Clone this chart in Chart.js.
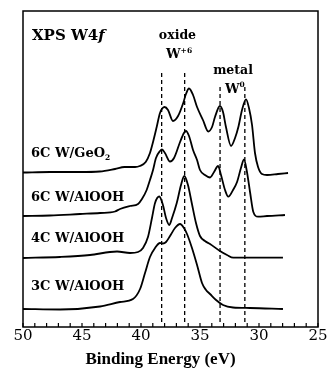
<!DOCTYPE html>
<html>
<head>
<meta charset="utf-8">
<script src="https://cdn.jsdelivr.net/npm/chart.js@4.4.1/dist/chart.umd.min.js"></script>
<style>
    html, body { margin: 0; padding: 0; background: #fff; }
    #wrap { width: 328px; height: 387px; }
</style>
</head>
<body>
<div id="wrap"><canvas id="xps"></canvas></div>
<script>
// Binding energy (eV) and intensity (a.u.)
const eV_6C_GeO2 = [50, 47.7, 45.2, 43.5, 42.2, 41.4, 40.5, 40.1, 39.6, 39.24, 38.98, 38.67, 38.39, 38.0, 37.71, 37.29, 36.86, 36.42, 36.19, 35.93, 35.59, 35.25, 34.75, 34.3, 33.98, 33.73, 33.31, 33.05, 32.8, 32.37, 32.03, 31.75, 31.44, 31.1, 30.85, 30.59, 30.34, 30.08, 29.75, 29.32, 28.39, 27.54];
const int_6C_GeO2 = [154.5, 155, 155, 155.5, 158, 160, 160, 161, 165, 174, 185, 200, 214, 220, 217, 206, 211, 224, 233, 238.5, 232, 220, 207, 195.5, 200, 210, 221, 215, 200, 181, 189, 200, 217, 227.7, 219, 202, 174, 160, 153, 152, 153, 154];

const eV_6C_AlOOH = [50, 47.71, 45.17, 43.47, 42.2, 41.78, 40.93, 40.25, 39.92, 39.52, 39.24, 38.98, 38.73, 38.39, 38.22, 37.97, 37.54, 37.2, 36.69, 36.36, 36.19, 35.93, 35.59, 35.25, 35.0, 34.58, 34.15, 33.81, 33.47, 33.22, 32.88, 32.6, 32.2, 31.86, 31.53, 31.27, 31.02, 30.76, 30.48, 30.08, 29.32, 27.8];
const int_6C_AlOOH = [111, 111.5, 113, 114, 115.5, 118, 121, 123, 128, 137, 147, 157, 169, 176, 177.5, 174, 165.5, 169, 185, 194, 196, 191, 177, 167, 157, 152, 149.5, 155, 161, 152, 137, 130.3, 137, 145, 159, 167.5, 155, 135, 115, 110.3, 111, 112];

const eV_4C_AlOOH = [50, 46.86, 44.32, 42.63, 42.03, 40.93, 40.25, 39.83, 39.41, 39.07, 38.81, 38.45, 38.14, 37.88, 37.6, 37.37, 36.97, 36.61, 36.33, 36.02, 35.7, 35.34, 35.0, 34.58, 34.15, 33.31, 32.71, 32.18, 27.97];
const int_4C_AlOOH = [69, 70, 72, 75, 75.5, 74, 75, 79, 90, 109, 124, 130.5, 122, 109, 102, 109, 124, 142, 151, 142, 124, 104, 91, 86, 83, 76, 72, 69.3, 69.3];

const eV_3C_AlOOH = [50, 46.86, 43.47, 41.78, 40.68, 40.08, 39.66, 39.24, 38.81, 38.39, 38.14, 37.88, 37.54, 37.12, 36.69, 36.36, 36.1, 35.68, 35.25, 34.83, 34.49, 34.15, 33.64, 33.05, 32.2, 30.76, 27.97];
const int_3C_AlOOH = [18, 17.5, 20.5, 25, 28, 38, 54, 70, 79, 84, 83.5, 85, 91, 99, 103, 99, 93, 79, 62, 44, 37, 33, 27, 22, 19.5, 19, 18];

// reference positions (W+6 oxide doublet, W0 metal doublet)
const refPeaks = [38.25, 36.3, 33.3, 31.2];
const refTop = [256, 256, 241, 241];
const refBottom = 5;

const xTicks = [50, 45, 40, 35, 30, 25];

// sample labels: name, subscript, intensity of the text baseline
const sampleNames = ['6C W/GeO', '6C W/AlOOH', '4C W/AlOOH', '3C W/AlOOH'];
const sampleSubs = ['2', '', '', ''];
const sampleY = [170.5, 126.5, 85, 36.7];

function pares(xs, ys) {
    return xs.map((v, i) => ({ x: v, y: ys[i] }));
}

const spectra = [
    pares(eV_6C_GeO2, int_6C_GeO2),
    pares(eV_6C_AlOOH, int_6C_AlOOH),
    pares(eV_4C_AlOOH, int_4C_AlOOH),
    pares(eV_3C_AlOOH, int_3C_AlOOH)
];

const datasets = spectra.map(d => ({
    data: d,
    borderColor: '#000',
    borderWidth: 1.8,
    pointRadius: 0,
    fill: false,
    cubicInterpolationMode: 'monotone'
}));

refPeaks.forEach((p, i) => {
    datasets.push({
        data: [{ x: p, y: refBottom }, { x: p, y: refTop[i] }],
        borderColor: '#000',
        borderWidth: 1.3,
        borderDash: [4, 3],
        pointRadius: 0,
        fill: false
    });
});

const serif = '"DejaVu Serif", serif';

// draws a run of text pieces (for super/subscripts) at a data position
function putText(chart, pieces, xv, yv, align) {
    const ctx = chart.ctx;
    const px = chart.scales.x.getPixelForValue(xv);
    const py = chart.scales.y.getPixelForValue(yv);
    let total = 0;
    pieces.forEach(p => { ctx.font = p.font; total += ctx.measureText(p.t).width; });
    let cx = align === 'center' ? px - total / 2 : px;
    ctx.textAlign = 'left';
    ctx.textBaseline = 'alphabetic';
    pieces.forEach(p => {
        ctx.font = p.font;
        ctx.fillText(p.t, cx, py + (p.dy || 0));
        cx += ctx.measureText(p.t).width;
    });
}

const decor = {
    id: 'decor',
    afterDatasetsDraw(chart) {
        const { ctx, chartArea: a, scales: { x } } = chart;
        ctx.save();
        ctx.strokeStyle = '#000';
        ctx.fillStyle = '#000';

        // frame
        ctx.lineWidth = 1.5;
        ctx.strokeRect(a.left, a.top, a.right - a.left, a.bottom - a.top);

        // inward ticks every 1 eV
        ctx.lineWidth = 1.2;
        x.ticks.forEach(t => {
            const px = x.getPixelForValue(t.value);
            ctx.beginPath();
            ctx.moveTo(px, a.bottom);
            ctx.lineTo(px, a.bottom - 4);
            ctx.stroke();
        });

        const big = 'bold 15px ' + serif;
        const mid = 'bold 13px ' + serif;
        const small = 'bold 7.5px ' + serif;

        putText(chart, [{ t: 'XPS W4', font: big }, { t: 'f', font: 'italic bold 15px ' + serif }], 49.24, 287, 'left');
        putText(chart, [{ t: 'oxide', font: 'bold 12.5px ' + serif }], 36.91, 287.7, 'center');
        putText(chart, [{ t: 'W', font: mid }, { t: '+6', font: small, dy: -5.5 }], 37.88, 268.7, 'left');
        putText(chart, [{ t: 'metal', font: 'bold 12.5px ' + serif }], 32.2, 253, 'center');
        putText(chart, [{ t: 'W', font: mid }, { t: '0', font: small, dy: -6 }], 32.88, 234, 'left');

        sampleNames.forEach((n, i) => {
            const pieces = [{ t: n, font: mid }];
            if (sampleSubs[i]) pieces.push({ t: sampleSubs[i], font: small, dy: 3.5 });
            putText(chart, pieces, 49.32, sampleY[i], 'left');
        });

        ctx.restore();
    }
};

new Chart(document.getElementById('xps'), {
    type: 'line',
    data: { datasets: datasets },
    options: {
        responsive: true,
        maintainAspectRatio: false,
        devicePixelRatio: 1,
        animation: false,
        layout: { padding: { left: 3, right: 10, top: 11, bottom: 17.6 } },
        plugins: {
            legend: { display: false },
            tooltip: { enabled: false },
            title: {
                display: true,
                position: 'bottom',
                text: 'Binding Energy (eV)',
                color: '#000',
                font: { family: '"Liberation Serif", serif', size: 17, weight: 'bold' },
                padding: { top: 4, bottom: 0 }
            }
        },
        scales: {
            x: {
                type: 'linear',
                min: 25,
                max: 50,
                reverse: true,
                grid: { display: false, drawTicks: false },
                border: { display: false },
                ticks: {
                    stepSize: 1,
                    autoSkip: false,
                    maxRotation: 0,
                    padding: 0,
                    color: '#000',
                    font: { family: serif, size: 15 },
                    callback: v => xTicks.includes(v) ? v : ''
                }
            },
            y: {
                min: 0,
                max: 316,
                grid: { display: false, drawTicks: false },
                border: { display: false },
                ticks: { display: false },
                afterFit: s => { s.width = 20; }
            }
        }
    },
    plugins: [decor]
});
</script>
</body>
</html>
